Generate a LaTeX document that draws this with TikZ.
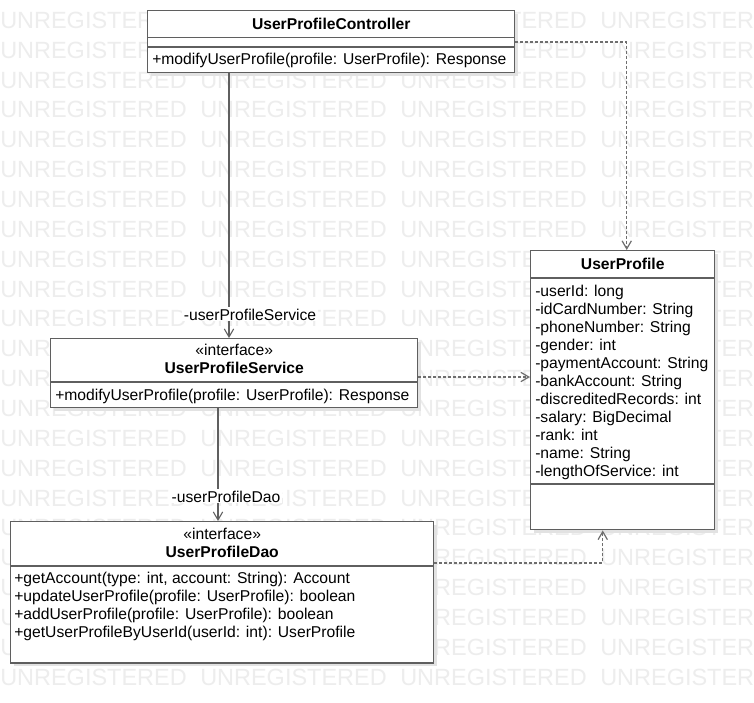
\documentclass[tikz,border=0pt]{standalone}
\usepackage{fontspec}
\setmainfont{Liberation Sans}
\usetikzlibrary{arrows.meta,calc,shadows}

\definecolor{linegray}{HTML}{5F5F5F}
\definecolor{dotgray}{HTML}{6E6E6E}
\definecolor{shadowgray}{HTML}{E2E2E2}
\definecolor{markgray}{HTML}{EDEDED}

\tikzset{
  classbox/.style={draw=linegray, line width=1.1pt, fill=white, inner sep=0pt, anchor=north west,
    drop shadow={shadow xshift=2.5pt, shadow yshift=-2.5pt, fill=shadowgray, opacity=1}},
  divider/.style={draw=linegray, line width=1.1pt},
  classname/.style={anchor=base, inner sep=0pt, font=\fontsize{11.75}{13.5}\selectfont\bfseries},
  stereo/.style={anchor=base, inner sep=0pt, font=\fontsize{11.75}{13.5}\selectfont},
  member/.style={anchor=base west, inner sep=0pt, font=\fontsize{11.75}{13.5}\selectfont},
  role/.style={anchor=base, inner sep=1pt, fill=white, font=\fontsize{11.75}{13.5}\selectfont},
  wmark/.style={anchor=base west, inner sep=0pt, text=markgray, font=\fontsize{17.6}{20}\selectfont},
  assoc/.style={draw=linegray, line width=0.8pt, -{Straight Barb[length=6pt,width=7pt]}},
  depend/.style={draw=dotgray, line width=0.9pt, dash pattern=on 2.25pt off 1.5pt,
    -{Straight Barb[length=6pt,width=7pt]}}
}

\begin{document}
\begin{tikzpicture}[x=0.75pt, y=-0.75pt]
  \path[fill=white] (0,0) rectangle (754,703);
  \useasboundingbox (0,0) rectangle (754,703);

  % watermark
  \foreach \r in {0,...,23}
    \foreach \c in {0,...,3}
      \node[wmark] (wm-\r-\c) at ({200*\c},{-1.45+29.85*\r}) {UNREGISTERED};

  % UserProfileController
  \node[classbox, minimum width=275.25pt, minimum height=46.5pt] (ctrl) at (147,10) {};
  \draw[divider] ($(ctrl.north west)+(0,27.5)$) -- ($(ctrl.north east)+(0,27.5)$);
  \draw[divider] ($(ctrl.north west)+(0,37)$) -- ($(ctrl.north east)+(0,37)$);
  \node[classname] (ctrl-name) at ($(ctrl.north)+(0,19.5)$) {UserProfileController};
  \node[member] (ctrl-op) at ($(ctrl.north west)+(5,54.5)$) {+modifyUserProfile(profile: UserProfile): Response};

  % UserProfileService
  \node[classbox, minimum width=275.25pt, minimum height=51.75pt] (svc) at (50,338) {};
  \draw[divider] ($(svc.north west)+(0,44)$) -- ($(svc.north east)+(0,44)$);
  \node[stereo] (svc-stereo) at ($(svc.north)+(0,17.5)$) {«interface»};
  \node[classname] (svc-name) at ($(svc.north)+(0,35.5)$) {UserProfileService};
  \node[member] (svc-op) at ($(svc.north west)+(5,62)$) {+modifyUserProfile(profile: UserProfile): Response};

  % UserProfileDao
  \node[classbox, minimum width=317.25pt, minimum height=106pt] (dao) at (10,521) {};
  \draw[divider] ($(dao.north west)+(0,45)$) -- ($(dao.north east)+(0,45)$);
  \node[stereo] (dao-stereo) at ($(dao.north)+(0,18.5)$) {«interface»};
  \node[classname] (dao-name) at ($(dao.north)+(0,36.5)$) {UserProfileDao};
  \node[member] (dao-op1) at ($(dao.north west)+(4,62.5)$) {+getAccount(type: int, account: String): Account};
  \node[member] (dao-op2) at ($(dao.north west)+(4,80.5)$) {+updateUserProfile(profile: UserProfile): boolean};
  \node[member] (dao-op3) at ($(dao.north west)+(4,98.5)$) {+addUserProfile(profile: UserProfile): boolean};
  \node[member] (dao-op4) at ($(dao.north west)+(4,116.5)$) {+getUserProfileByUserId(userId: int): UserProfile};

  % UserProfile
  \node[classbox, minimum width=138pt, minimum height=209.25pt] (prof) at (530,250) {};
  \draw[divider] ($(prof.north west)+(0,28)$) -- ($(prof.north east)+(0,28)$);
  \draw[divider] ($(prof.north west)+(0,234)$) -- ($(prof.north east)+(0,234)$);
  \node[classname] (prof-name) at ($(prof.north)+(0,19.5)$) {UserProfile};
  \node[member] (prof-a1) at ($(prof.north west)+(5,46.5)$) {-userId: long};
  \node[member] (prof-a2) at ($(prof.north west)+(5,64.5)$) {-idCardNumber: String};
  \node[member] (prof-a3) at ($(prof.north west)+(5,82.5)$) {-phoneNumber: String};
  \node[member] (prof-a4) at ($(prof.north west)+(5,100.5)$) {-gender: int};
  \node[member] (prof-a5) at ($(prof.north west)+(5,118.5)$) {-paymentAccount: String};
  \node[member] (prof-a6) at ($(prof.north west)+(5,136.5)$) {-bankAccount: String};
  \node[member] (prof-a7) at ($(prof.north west)+(5,154.5)$) {-discreditedRecords: int};
  \node[member] (prof-a8) at ($(prof.north west)+(5,172.5)$) {-salary: BigDecimal};
  \node[member] (prof-a9) at ($(prof.north west)+(5,190.5)$) {-rank: int};
  \node[member] (prof-a10) at ($(prof.north west)+(5,208.5)$) {-name: String};
  \node[member] (prof-a11) at ($(prof.north west)+(5,226.5)$) {-lengthOfService: int};

  % associations
  \coordinate (ctrl-out) at ($(ctrl.south west)+(82,0)$);
  \draw[assoc] (ctrl-out) -- (ctrl-out |- svc.north);
  \node[role] (svc-role) at (250,320) {-userProfileService};
  \coordinate (svc-out) at ($(svc.south west)+(168,0)$);
  \draw[assoc] (svc-out) -- (svc-out |- dao.north);
  \node[role] (dao-role) at (226,502) {-userProfileDao};

  % dependencies
  \coordinate (ctrl-dep) at ($(ctrl.north east)+(0,32)$);
  \coordinate (prof-top) at ($(prof.north)+(4,0)$);
  \draw[depend] (ctrl-dep) -| (prof-top);
  \coordinate (svc-dep) at ($(svc.north east)+(0,39)$);
  \draw[depend] (svc-dep) -- (svc-dep -| prof.west);
  \coordinate (dao-dep) at ($(dao.north east)+(0,42)$);
  \coordinate (prof-bot) at ($(prof.south)+(-20,0)$);
  \draw[depend] (dao-dep) -| (prof-bot);
\end{tikzpicture}
\end{document}
